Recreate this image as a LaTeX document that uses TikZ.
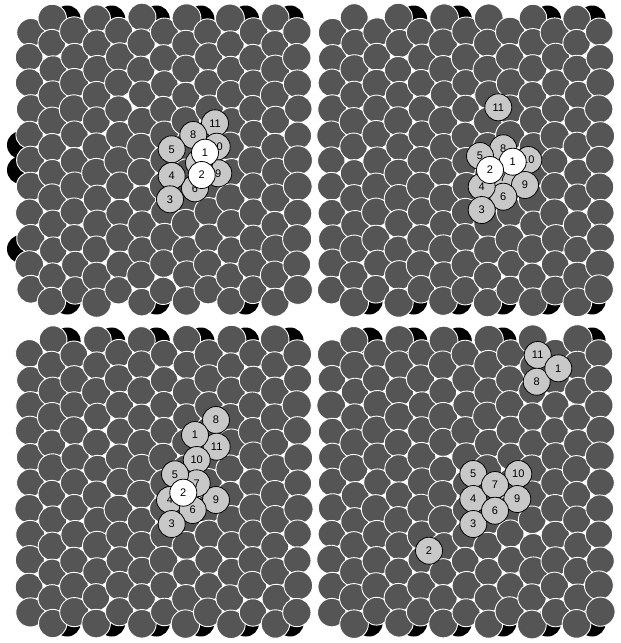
\documentclass[tikz,border=0pt]{standalone}
\usepackage{fontspec}
\setmainfont{Liberation Sans}
\definecolor{bedgray}{RGB}{85,85,85}
\definecolor{taggray}{RGB}{200,200,200}

\begin{document}
\begin{tikzpicture}[x=1pt,y=-1pt,
  bed/.style={fill=bedgray, draw=white, line width=0.9pt},
  hidden/.style={fill=black},
  grain/.style={circle, draw=black, fill=taggray, line width=0.8pt, minimum size=27pt, inner sep=0pt, font=\fontsize{11}{13}\selectfont},
  lead/.style={grain, fill=white}]
\useasboundingbox (0,0) rectangle (621,643);
\pgfmathsetseed{4217}

% black grains peeking out behind the bed
\foreach \ox/\oy/\tops/\bots in {0/0/{2,4,6,8,10,12}/{2,6,10}, 302/0/{4,6,10,12}/{2,4,6,8,10,12},
    0/322/{2,4,6,8,10,12}/{2,4,6,8,10,12}, 302/322/{2,4,6,8,12}/{2,4,6,8,10,12}} {
  \foreach \k in \tops
    \fill[hidden] (\ox+30+22.3*\k-7.5, \oy+19) circle[radius=13.5];
  \foreach \k in \bots
    \fill[hidden] (\ox+30+22.3*\k-7.5, \oy+301) circle[radius=13.5];
}
\foreach \gy in {145,170,249}
  \fill[hidden] (21,\gy) circle[radius=14];

% the packed bed, four snapshots
\foreach \ox/\oy in {0/0, 302/0, 0/322, 302/322} {
  \foreach \k in {0,...,12} {
    \pgfmathsetmacro\ytop{isodd(\k) ? 18 : 32}
    \pgfmathtruncatemacro\nrow{isodd(\k) ? 11 : 10}
    \foreach \j in {0,...,\nrow} {
      \pgfmathsetmacro\gx{\ox+30+22.3*\k+0.9*rand}
      \pgfmathsetmacro\gy{\oy+\ytop+25.8*\j+0.9*rand}
      \pgfmathsetmacro\gr{14.1+0.5*rand}
      \draw[bed] (\gx,\gy) circle[radius=\gr];
    }
  }
}

% snapshot 1
\node[grain] (a11) at (215,123.3) {11};
\node[grain] (a10) at (216.7,146.7) {10};
\node[grain] (a9) at (218.3,173.3) {9};
\node[grain] (a7) at (199,163) {7};
\node[grain] (a6) at (195,188.3) {6};
\node[grain] (a8) at (193.3,135) {8};
\node[grain] (a5) at (171.7,149.3) {5};
\node[grain] (a4) at (171.7,176) {4};
\node[grain] (a3) at (170,199.3) {3};
\node[lead] (a1) at (205,152.7) {1};
\node[lead] (a2) at (201.7,175) {2};

% snapshot 2
\node[grain] (b11) at (498.3,107.3) {11};
\node[grain] (b7) at (503,178) {7};
\node[grain] (b10) at (528.3,160) {10};
\node[grain] (b9) at (525,185) {9};
\node[grain] (b8) at (503.3,148.3) {8};
\node[grain] (b6) at (503.3,196.7) {6};
\node[grain] (b5) at (480,156) {5};
\node[grain] (b4) at (481.7,186.7) {4};
\node[grain] (b3) at (481.7,210) {3};
\node[lead] (b1) at (512.7,161.7) {1};
\node[lead] (b2) at (490,170) {2};

% snapshot 3
\node[grain] (c8) at (216,420) {8};
\node[grain] (c11) at (216.7,446.7) {11};
\node[grain] (c1) at (195,435) {1};
\node[grain] (c10) at (196.7,460) {10};
\node[grain] (c9) at (216,500) {9};
\node[grain] (c7) at (196.7,483.3) {7};
\node[grain] (c5) at (175,474.3) {5};
\node[grain] (c4) at (170,500) {4};
\node[grain] (c6) at (192.7,510) {6};
\node[grain] (c3) at (171.7,524) {3};
\node[lead] (c2) at (183.3,492.7) {2};

% snapshot 4
\node[grain] (d11) at (537.7,355) {11};
\node[grain] (d8) at (536.7,381.7) {8};
\node[grain] (d1) at (558.3,368.3) {1};
\node[grain] (d5) at (473.3,474) {5};
\node[grain] (d10) at (518.3,474) {10};
\node[grain] (d4) at (473.3,499) {4};
\node[grain] (d3) at (473.3,524) {3};
\node[grain] (d7) at (495,485) {7};
\node[grain] (d9) at (517.3,499) {9};
\node[grain] (d6) at (495,510.7) {6};
\node[grain] (d2) at (429,550.7) {2};
\end{tikzpicture}
\end{document}
